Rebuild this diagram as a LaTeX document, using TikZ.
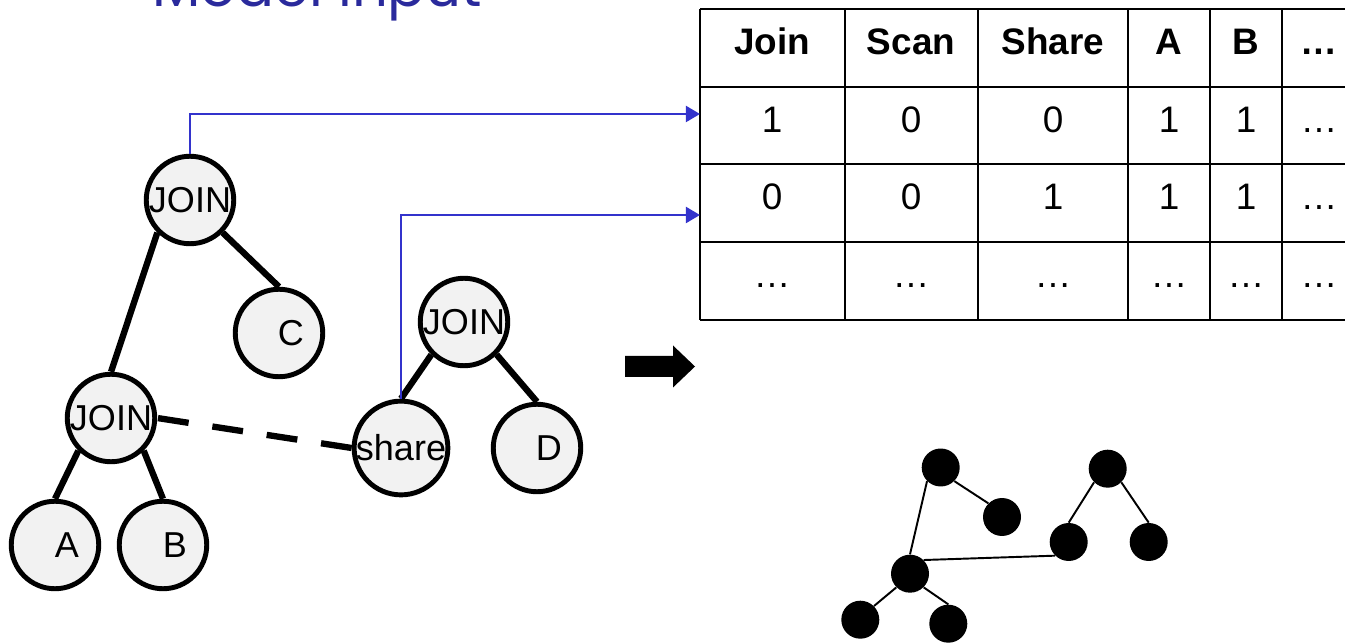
\documentclass[tikz,border=0pt]{standalone}
\usepackage{fontspec}
\setmainfont{Liberation Sans}
\newfontfamily\titlefont{Poppins}
\usetikzlibrary{arrows.meta}
\definecolor{myblue}{HTML}{3333CC}
\definecolor{titleblue}{HTML}{2A2A9C}
\definecolor{nodegray}{HTML}{F2F2F2}
\tikzset{
	treenode/.style={
			circle,
			draw=black,
			line width=2.8pt,
			fill=nodegray,
			minimum size=1.75cm,
			inner sep=0pt,
			font=\fontsize{20.5}{24}\selectfont
		},
	leafnode/.style={
			treenode,
			execute at begin node={\hspace*{4.8mm}}
		},
	treeedge/.style={
			line width=3.6pt
		},
	shareedge/.style={
			line width=3.6pt,
			dash pattern=on 0.62cm off 0.48cm
		},
	dotnode/.style={
			circle,
			fill=black,
			minimum size=0.76cm,
			inner sep=0pt
		},
	dotedge/.style={
			line width=1.1pt
		},
	mapline/.style={
			myblue,
			line width=1.5pt,
			-{Triangle[length=8pt,width=9pt]}
		},
	headcell/.style={
			anchor=base,
			font=\fontsize{21}{24}\selectfont\bfseries
		},
	bodycell/.style={
			anchor=base,
			font=\fontsize{21}{24}\selectfont
		}
}

\begin{document}
\begin{tikzpicture}[x=0.02cm, y=-0.02cm]
\clip (0,0) rectangle (1345,644);

\node[anchor=base west, inner sep=0pt, text=titleblue, font=\titlefont] (title) at (152,6.5)
{\resizebox{6.6cm}{!}{Model Input}};

\node[treenode] (j1) at (190,200) {JOIN};
\node[leafnode] (c) at (279,333) {C};
\node[treenode] (j2) at (111,418) {JOIN};
\node[leafnode] (a) at (55,545) {A};
\node[leafnode] (b) at (163,545) {B};
\node[treenode] (j3) at (464,322) {JOIN};
\node[treenode] (sh) at (401,448) {share};
\node[leafnode] (d) at (537,448) {D};

\draw[treeedge] (j1.south west) -- (j2.north);
\draw[treeedge] (j1.south east) -- (c.north);
\draw[treeedge] (j2.south west) -- (a.north);
\draw[treeedge] (j2.south east) -- (b.north);
\draw[treeedge] (j3.south west) -- (sh.north);
\draw[treeedge] (j3.south east) -- (d.north);
\draw[shareedge] (sh.west) -- (j2.east);

\foreach \x in {700,845,978,1128,1210,1282}
  \draw[line width=1.3pt] (\x,9) -- (\x,320);
\foreach \y in {9,87,164,242,320}
  \draw[line width=1.3pt] (700,\y) -- (1360,\y);

\foreach \colx/\head/\va/\vb [count=\i] in
  {772/Join/1/0, 911/Scan/0/0, 1053/Share/0/1, 1169/A/1/1, 1246/B/1/1, 1319/…/…/…}{
  \node[headcell] (h\i) at (\colx,55) {\head};
  \node[bodycell] (ra\i) at (\colx,133) {\va};
  \node[bodycell] (rb\i) at (\colx,210) {\vb};
  \node[bodycell] (rc\i) at (\colx,288) {…};
}

\coordinate (row1in) at (700,114);
\coordinate (row2in) at (700,215);
\draw[mapline] (j1.north) |- (row1in);
\draw[mapline] (sh.north) |- (row2in);

\fill (625,356) -- (673,356) -- (673,345.5) -- (695,366.5) -- (673,387.5) -- (673,377) -- (625,377) -- cycle;

\node[dotnode] (g1) at (940.7,467.5) {};
\node[dotnode] (g2) at (1002,517) {};
\node[dotnode] (g3) at (910,573.7) {};
\node[dotnode] (g4) at (860.3,619.7) {};
\node[dotnode] (g5) at (948.3,623.7) {};
\node[dotnode] (g6) at (1107.7,468.7) {};
\node[dotnode] (g7) at (1068.7,542) {};
\node[dotnode] (g8) at (1148.7,542) {};

\draw[dotedge] (g1.south east) -- (g2.north west);
\draw[dotedge] (g1.south west) -- (g3.north);
\draw[dotedge] (g3.south west) -- (g4.north east);
\draw[dotedge] (g3.south east) -- (g5.north);
\draw[dotedge] (g3.north east) -- (g7.south west);
\draw[dotedge] (g6.south west) -- (g7.north);
\draw[dotedge] (g6.south east) -- (g8.north);
\end{tikzpicture}
\end{document}
